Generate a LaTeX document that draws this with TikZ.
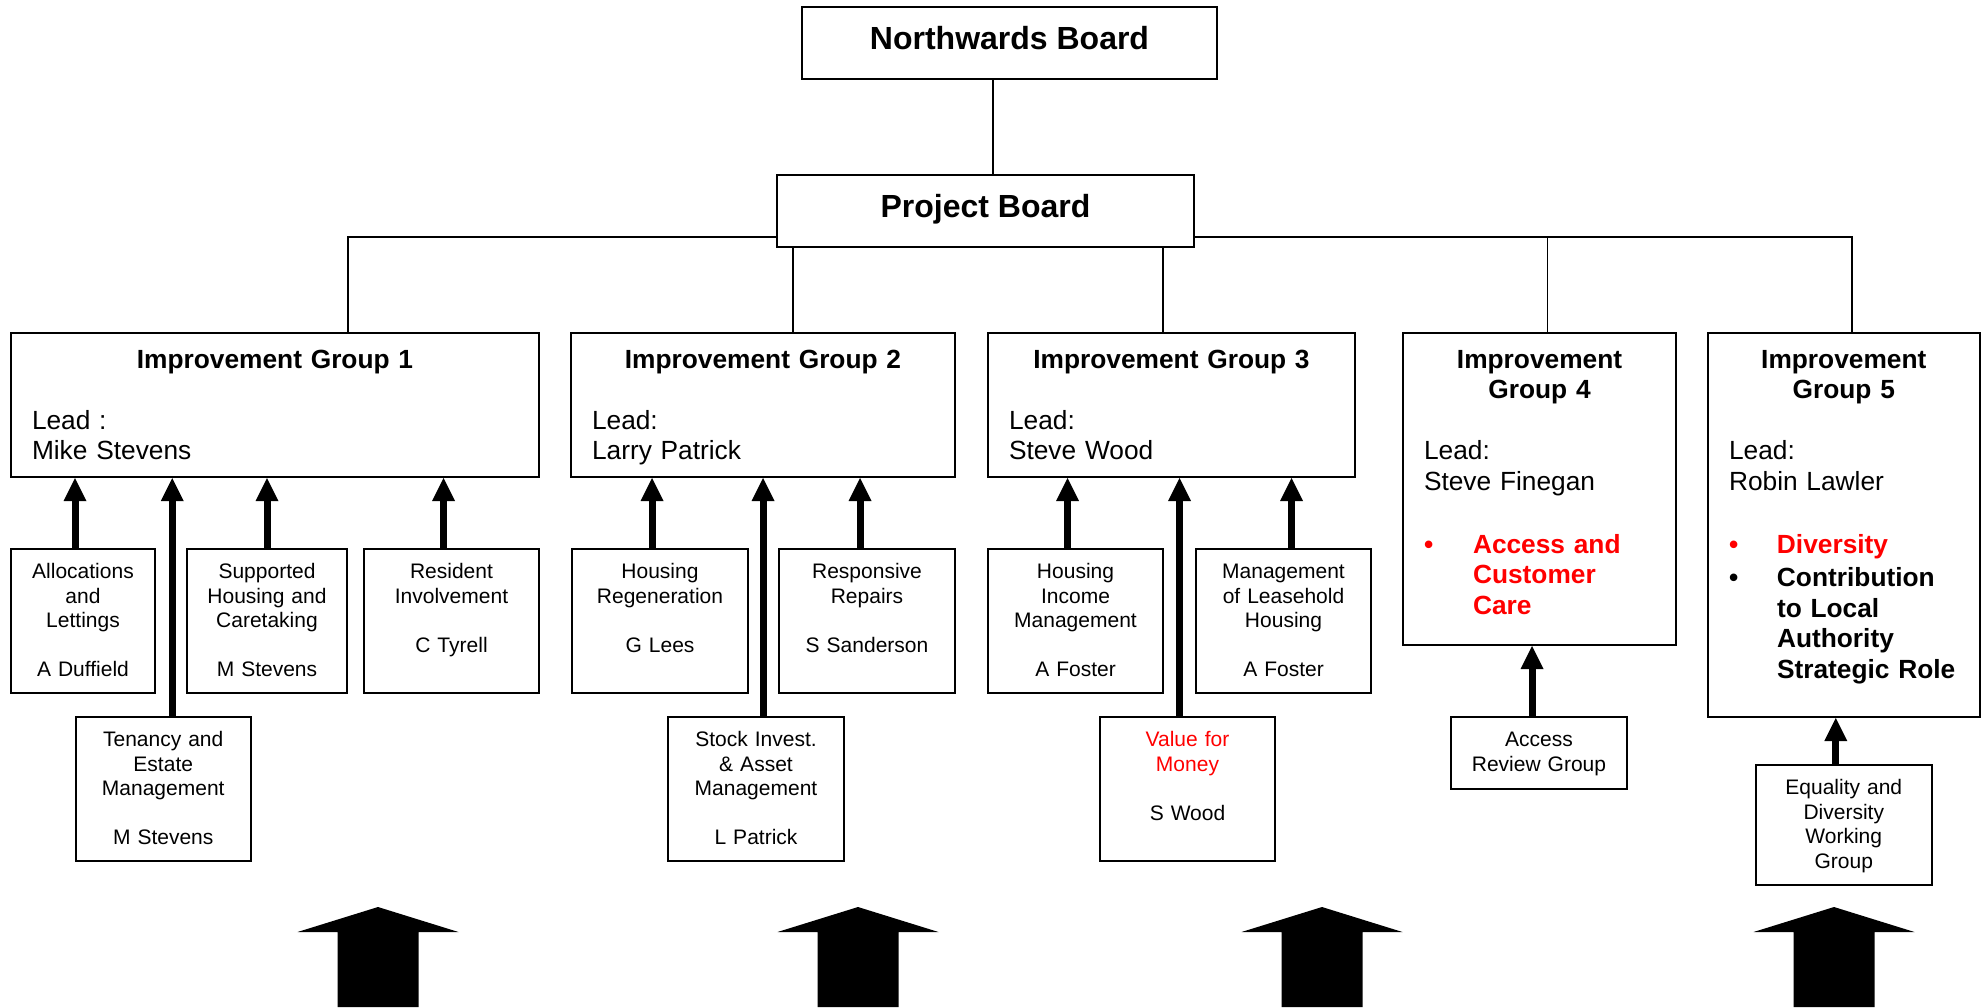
\documentclass[tikz,border=0pt]{standalone}
\usepackage{fontspec}
\setmainfont{Liberation Sans}
\usetikzlibrary{arrows.meta}

\begin{document}
\begin{tikzpicture}[x=1pt, y=-1pt,
	board/.style={draw, line width=2pt, inner sep=0pt, minimum height=72pt, text depth=11pt, font=\fontsize{32}{38}\selectfont\bfseries},
	group/.style={draw, line width=2pt, anchor=north west, inner xsep=21pt, inner ysep=0pt, align=left, text height=35pt, font=\fontsize{26.3}{30.6}\selectfont},
	team/.style={draw, line width=2pt, anchor=north west, inner sep=0pt, align=center, text height=29.5pt, text depth=114.5pt, font=\fontsize{21}{24.5}\selectfont},
	link/.style={line width=1.6pt},
	feed/.style={line width=7pt, -{Triangle[length=23pt, width=23pt, line width=0pt]}}]
	
	\useasboundingbox (0,0) rectangle (1981,1007);
	
	\node [board, minimum width=415pt] (nb) at (1009.5,43) {Northwards Board};
	
	\node [board, minimum width=417pt] (pb) at (985.5,211) {Project Board};
	
	\node [group, text width=486pt, text depth=109pt] (ig1) at (10,332) {{\centering\bfseries Improvement Group 1\par}\vspace{30.6pt}Lead :\\Mike Stevens};
	\node [group, text width=342pt, text depth=109pt] (ig2) at (570,332) {{\centering\bfseries Improvement Group 2\par}\vspace{30.6pt}Lead:\\Larry Patrick};
	\node [group, text width=325pt, text depth=109pt] (ig3) at (987,332) {{\centering\bfseries Improvement Group 3\par}\vspace{30.6pt}Lead:\\Steve Wood};
	\node [group, text width=231pt, text depth=277pt] (ig4) at (1402,332) {{\centering\bfseries Improvement\\Group 4\par}\vspace{30.6pt}Lead:\\Steve Finegan\par\vspace{32pt}{\bfseries\color{red}\makebox[49pt][l]{\textbullet}\parbox[t]{182pt}{Access and\\Customer\\Care}}};
	\node [group, text width=229.5pt, text depth=349pt] (ig5) at (1707,332) {{\centering\bfseries Improvement\\Group 5\par}\vspace{30.6pt}Lead:\\Robin Lawler\par\vspace{32pt}{\bfseries\color{red}\makebox[48pt][l]{\textbullet}\parbox[t]{181pt}{Diversity}\par}\vspace{3pt}{\bfseries\makebox[48pt][l]{\textbullet}\parbox[t]{181pt}{Contribution\\to Local\\Authority\\Strategic Role}}};
	
	\node [team, text width=144pt] (alloc) at (10,548) {Allocations\\and\\Lettings\\[24.5pt]A Duffield};
	\node [team, text width=160pt] (support) at (186,548) {Supported\\Housing and\\Caretaking\\[24.5pt]M Stevens};
	\node [team, text width=175pt] (resident) at (363,548) {Resident\\Involvement\\[24.5pt]C Tyrell};
	\node [team, text width=175.5pt] (tenancy) at (74.5,716) {Tenancy and\\Estate\\Management\\[24.5pt]M Stevens};
	
	\node [team, text width=176pt] (regen) at (571,548) {Housing\\Regeneration\\[24.5pt]G Lees};
	\node [team, text width=176pt] (repairs) at (778,548) {Responsive\\Repairs\\[24.5pt]S Sanderson};
	\node [team, text width=176pt] (stock) at (667,716) {Stock Invest.\\\& Asset\\Management\\[24.5pt]L Patrick};
	
	\node [team, text width=175pt] (income) at (987,548) {Housing\\Income\\Management\\[24.5pt]A Foster};
	\node [team, text width=175pt] (leasehold) at (1195,548) {Management\\of Leasehold\\Housing\\[24.5pt]A Foster};
	\node [team, text width=175pt] (value) at (1099,716) {{\color{red}Value for\\Money}\\[24.5pt]S Wood};
	
	\node [team, text width=176pt, text depth=42.5pt] (review) at (1450,716) {Access\\Review Group};
	\node [team, text width=175.5pt, text depth=90.5pt] (equality) at (1755,764) {Equality and\\Diversity\\Working\\Group};
	
	\draw [link] ([xshift=-16.5pt]nb.south) -- ([xshift=-16.5pt]nb.south |- pb.north);
	
	\draw [link] ([yshift=11pt]pb.south west) -| ([xshift=73pt]ig1.north);
	\draw [link] ([xshift=17pt]pb.south west) -- ([xshift=17pt]pb.south west |- ig2.north);
	\draw [link] ([xshift=-32pt]pb.south east) -- ([xshift=-32pt]pb.south east |- ig3.north);
	\draw [link] ([xshift=8pt]ig4.north) |- ([yshift=11pt]pb.south east);
	\draw [link] ([yshift=11pt]pb.south east) -| ([xshift=8pt]ig5.north);
	
	\draw [feed] ([xshift=-8pt]alloc.north) -- ([xshift=-8pt]alloc.north |- ig1.south);
	\draw [feed] ([xshift=9pt]tenancy.north) -- ([xshift=9pt]tenancy.north |- ig1.south);
	\draw [feed] (support.north) -- (support.north |- ig1.south);
	\draw [feed] ([xshift=-8pt]resident.north) -- ([xshift=-8pt]resident.north |- ig1.south);
	
	\draw [feed] ([xshift=-8pt]regen.north) -- ([xshift=-8pt]regen.north |- ig2.south);
	\draw [feed] ([xshift=7pt]stock.north) -- ([xshift=7pt]stock.north |- ig2.south);
	\draw [feed] ([xshift=-7pt]repairs.north) -- ([xshift=-7pt]repairs.north |- ig2.south);
	
	\draw [feed] ([xshift=-8pt]income.north) -- ([xshift=-8pt]income.north |- ig3.south);
	\draw [feed] ([xshift=-8pt]value.north) -- ([xshift=-8pt]value.north |- ig3.south);
	\draw [feed] ([xshift=8pt]leasehold.north) -- ([xshift=8pt]leasehold.north |- ig3.south);
	
	\draw [feed] ([xshift=-7pt]review.north) -- ([xshift=-7pt]review.north |- ig4.south);
	\draw [feed] ([xshift=-8pt]equality.north) -- ([xshift=-8pt]equality.north |- ig5.south);
	
	\fill (378,907) -- (458.5,932) -- (418.5,932) -- (418.5,1007) -- (337.5,1007) -- (337.5,932) -- (297.5,932) -- cycle;
	
	\fill (858,907) -- (938.5,932) -- (898.5,932) -- (898.5,1007) -- (817.5,1007) -- (817.5,932) -- (777.5,932) -- cycle;
	
	\fill (1322,907) -- (1402.5,932) -- (1362.5,932) -- (1362.5,1007) -- (1281.5,1007) -- (1281.5,932) -- (1241.5,932) -- cycle;
	
	\fill (1834,907) -- (1914.5,932) -- (1874.5,932) -- (1874.5,1007) -- (1793.5,1007) -- (1793.5,932) -- (1753.5,932) -- cycle;
	
\end{tikzpicture}
\end{document}
